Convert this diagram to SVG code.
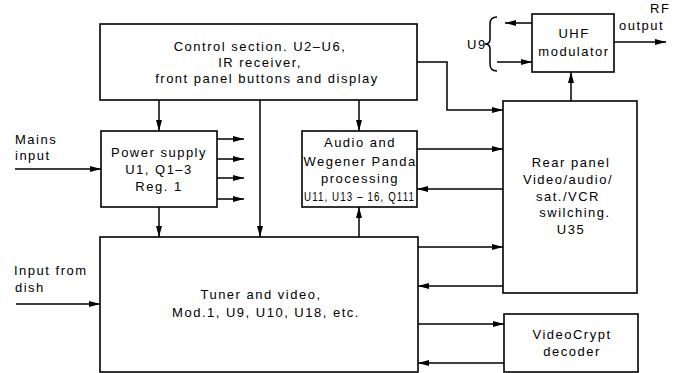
<svg xmlns="http://www.w3.org/2000/svg" width="678" height="373" viewBox="0 0 678 373">
<defs>
<marker id="ah" markerUnits="userSpaceOnUse" markerWidth="12" markerHeight="8" refX="11" refY="4" orient="auto">
<path d="M0,1 L11,4 L0,7 Z" fill="#000"/>
</marker>
<style>
.box{fill:#fff;stroke:#000;stroke-width:1.6}
.ln{fill:none;stroke:#000;stroke-width:1.5}
.ar{fill:none;stroke:#000;stroke-width:1.5;marker-end:url(#ah)}
text{font-family:"Liberation Sans","DejaVu Sans",sans-serif;font-size:13px;letter-spacing:1.5px;fill:#000}
.c{text-anchor:middle}
</style>
</defs>
<rect width="678" height="373" fill="#fff"/>
<g id="connectors">
<path class="ar" d="M159,100 V131"/>
<path class="ar" d="M159,207 V237"/>
<path class="ar" d="M260,100 V237"/>
<path class="ar" d="M359,100 V131"/>
<path class="ar" d="M359,237 V207"/>
<path class="ar" d="M217,139 H244"/>
<path class="ar" d="M217,159 H244"/>
<path class="ar" d="M217,178 H244"/>
<path class="ar" d="M217,199 H244"/>
<path class="ar" d="M15,169 H101"/>
<path class="ar" d="M16,304 H100"/>
<path class="ar" d="M417,62 H447 V110 H503"/>
<path class="ar" d="M417,149 H503"/>
<path class="ar" d="M503,189 H417"/>
<path class="ar" d="M418,247 H503"/>
<path class="ar" d="M503,286 H418"/>
<path class="ar" d="M418,324 H504"/>
<path class="ar" d="M504,363 H418"/>
<path class="ar" d="M571,101 V72"/>
<path class="ar" d="M614,42 H666"/>
<path class="ar" d="M532,23 H505"/>
<path class="ar" d="M497,62 H532"/>
<path class="ln" d="M497,17 Q490,17 490,24 L490,39 Q490,44 485,44 Q490,44 490,49 L490,64 Q490,71 497,71"/>
</g>
<g id="control">
<rect class="box" x="100" y="24" width="317" height="76"/>
<text class="c" x="260" y="51">Control section. U2–U6,</text>
<text class="c" x="260" y="67">IR receiver,</text>
<text class="c" x="267" y="83">front panel buttons and display</text>
</g>
<g id="mains-label">
<text x="15" y="144">Mains</text>
<text x="15" y="160">input</text>
</g>
<g id="dish-label">
<text x="14" y="275">Input from</text>
<text x="15" y="292">dish</text>
</g>
<g id="power">
<rect class="box" x="101" y="131" width="116" height="76"/>
<text class="c" x="159" y="157">Power supply</text>
<text class="c" x="159" y="174">U1, Q1–3</text>
<text class="c" x="159" y="191">Reg. 1</text>
</g>
<g id="audio">
<rect class="box" x="302" y="131" width="115" height="76"/>
<text class="c" x="360" y="147">Audio and</text>
<text class="c" x="360" y="166">Wegener Panda</text>
<text class="c" x="360" y="183">processing</text>
<text x="304" y="201" letter-spacing="0" textLength="111" lengthAdjust="spacingAndGlyphs">U11, U13 – 16, Q111</text>
</g>
<g id="tuner">
<rect class="box" x="100" y="237" width="318" height="135"/>
<text class="c" x="261" y="299">Tuner and video,</text>
<text class="c" x="266" y="317">Mod.1, U9, U10, U18, etc.</text>
</g>
<g id="rear">
<rect class="box" x="503" y="101" width="134" height="192"/>
<text class="c" x="571" y="167">Rear panel</text>
<text class="c" x="568" y="184">Video/audio/</text>
<text class="c" x="568" y="201">sat./VCR</text>
<text class="c" x="575" y="217">swilching.</text>
<text class="c" x="571" y="234">U35</text>
</g>
<g id="videocrypt">
<rect class="box" x="504" y="314" width="134" height="58"/>
<text class="c" x="572" y="339">VideoCrypt</text>
<text class="c" x="572" y="356">decoder</text>
</g>
<g id="uhf">
<rect class="box" x="532" y="14" width="82" height="58"/>
<text class="c" x="574" y="38">UHF</text>
<text class="c" x="574" y="56">modulator</text>
</g>
<g id="u9-label">
<text x="467" y="49">U9</text>
</g>
<g id="rf-label">
<text x="650" y="13">RF</text>
<text x="619" y="30" letter-spacing="0.8">output</text>
</g>
</svg>
